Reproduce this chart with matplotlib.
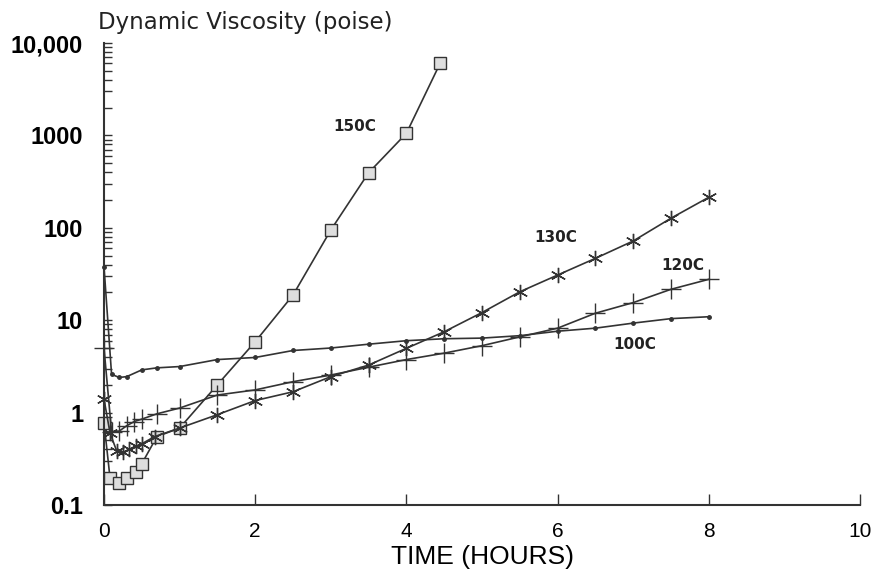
import matplotlib
matplotlib.use('Agg')
from matplotlib import pyplot as plt
from matplotlib.ticker import LogLocator, FixedLocator, FixedFormatter, NullFormatter

# hours, viscosity (poise)
t_150 = [0, 0.08, 0.2, 0.3, 0.42, 0.5, 0.7, 1.0, 1.5, 2.0, 2.5, 3.0, 3.5, 4.0, 4.45]
v_150 = [0.78, 0.195, 0.172, 0.195, 0.23, 0.28, 0.55, 0.68, 2.0, 5.85, 18.7, 94.6, 394, 1054, 6120]

t_130 = [0, 0.08, 0.17, 0.25, 0.33, 0.42, 0.5, 0.67, 1.0, 1.5, 2.0, 2.5, 3.0, 3.5,
         4.0, 4.5, 5.0, 5.5, 6.0, 6.5, 7.0, 7.5, 8.0]
v_130 = [1.4, 0.6, 0.38, 0.37, 0.4, 0.43, 0.46, 0.55, 0.68, 0.95, 1.35, 1.68, 2.45, 3.27,
         4.96, 7.5, 12.1, 20.3, 30.8, 46.7, 72, 127, 214]

t_120 = [0, 0.1, 0.2, 0.3, 0.4, 0.5, 0.7, 1.0, 1.5, 2.0, 2.5, 3.0, 3.5,
         4.0, 4.5, 5.0, 5.5, 6.0, 6.5, 7.0, 7.5, 8.0]
v_120 = [5.0, 0.62, 0.63, 0.72, 0.8, 0.85, 0.97, 1.12, 1.55, 1.76, 2.16, 2.55, 3.1,
         3.75, 4.4, 5.3, 6.6, 8.2, 11.9, 15.5, 21.6, 27.7]

t_100 = [0, 0.1, 0.2, 0.3, 0.5, 0.7, 1.0, 1.5, 2.0, 2.5, 3.0, 3.5,
         4.0, 4.5, 5.0, 5.5, 6.0, 6.5, 7.0, 7.5, 8.0]
v_100 = [38, 2.6, 2.4, 2.45, 2.9, 3.05, 3.15, 3.75, 3.95, 4.7, 5.0, 5.5,
         6.0, 6.3, 6.4, 6.8, 7.6, 8.2, 9.3, 10.4, 10.9]

y_ticks = [0.1, 1, 10, 100, 1000, 10000]
y_labels = ['0.1', '1', '10', '100', '1000', '10,000']
x_ticks = [0, 2, 4, 6, 8, 10]

ink = '#333333'


def main():
    fig = plt.figure(figsize=(8.72, 5.76), dpi=100)
    ax = fig.add_axes([104 / 872, 71 / 576, 756 / 872, 462 / 576])

    line = dict(color=ink, lw=1.2, clip_on=False)
    ax.plot(t_150, v_150, marker='s', ms=8.5, mfc='#dedede', mec=ink, mew=1.0, **line)
    ax.plot(t_130, v_130, marker=(6, 2, 0), ms=11, mec=ink, mew=1.0, **line)
    ax.plot(t_120, v_120, marker='+', ms=14, mec=ink, mew=1.0, **line)
    ax.plot(t_100, v_100, marker='o', ms=2.5, mfc=ink, mec=ink, **line)

    lab = dict(fontsize=11, fontweight='bold', color='#222222', family='DejaVu Sans',
               ha='center', va='center')
    ax.text(3.32, 1233, '150C', **lab)
    ax.text(5.97, 77.6, '130C', **lab)
    ax.text(7.66, 38.6, '120C', **lab)
    ax.text(7.02, 5.4, '100C', **lab)

    ax.set_yscale('log')
    ax.set_xlim(0, 10)
    ax.set_ylim(0.1, 10000)

    ax.yaxis.set_major_locator(FixedLocator(y_ticks))
    ax.yaxis.set_major_formatter(FixedFormatter(y_labels))
    ax.yaxis.set_minor_locator(LogLocator(base=10, subs=range(2, 10)))
    ax.yaxis.set_minor_formatter(NullFormatter())
    ax.tick_params(axis='y', which='both', direction='in', length=6, width=1.0,
                   color=ink, pad=15, labelsize=17)
    for t in ax.get_yticklabels():
        t.set_fontweight('bold')
        t.set_family('Liberation Sans')

    ax.set_xticks(x_ticks)
    ax.tick_params(axis='x', direction='in', length=8, width=1.0, color=ink,
                   pad=12, labelsize=15)
    for t in ax.get_xticklabels():
        t.set_family('Liberation Sans')
    ax.set_xlabel('TIME (HOURS)', fontsize=19, family='Liberation Sans', labelpad=3)

    for s in ['top', 'right']:
        ax.spines[s].set_visible(False)
    for s in ['left', 'bottom']:
        ax.spines[s].set_linewidth(1.5)
        ax.spines[s].set_color(ink)

    fig.text(98 / 872, 1 - 22 / 576, 'Dynamic Viscosity (poise)', fontsize=16.5,
             family='DejaVu Sans', ha='left', va='center', color='#222222')

    fig.savefig('out.png', dpi=100)


if __name__ == '__main__':
    main()
